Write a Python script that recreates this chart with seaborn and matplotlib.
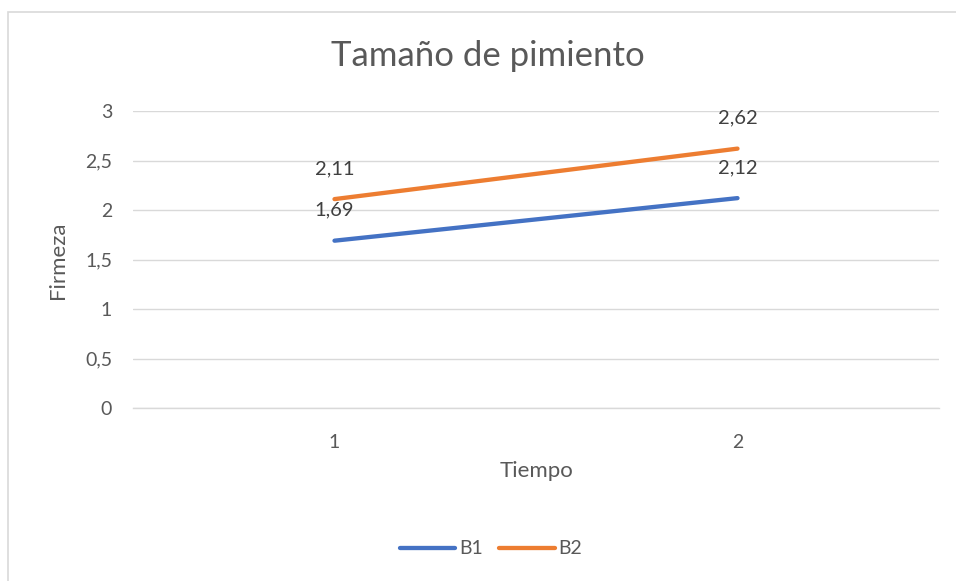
import matplotlib
matplotlib.use("Agg")
import matplotlib.pyplot as plt
import seaborn as sns
import pandas as pd
from matplotlib.patches import Rectangle
from matplotlib.lines import Line2D
from matplotlib.ticker import FuncFormatter

tiempo = ["1", "2"]
b1 = [1.69, 2.12]
b2 = [2.11, 2.62]
series_names = ["B1", "B2"]
y_ticks = [0, 0.5, 1, 1.5, 2, 2.5, 3]

df = pd.DataFrame({
    "Tiempo": tiempo * 2,
    "Firmeza": b1 + b2,
    "Serie": [series_names[0]] * len(tiempo) + [series_names[1]] * len(tiempo),
})

sns.set_theme(style="white")
plt.rcParams["font.family"] = ["Lato", "DejaVu Sans"]

W, H = 956, 581
fig = plt.figure(figsize=(W / 100, H / 100), dpi=100)
ax = fig.add_axes([133 / W, (H - 408) / H, (939 - 133) / W, (408 - 111) / H])

colors = {"B1": "#4472C4", "B2": "#ED7D31"}
sns.lineplot(data=df, x="Tiempo", y="Firmeza", hue="Serie", palette=colors,
             linewidth=3.1, ax=ax, legend=False, solid_capstyle="round")

ax.set_xlim(-0.5, 1.5)
ax.set_ylim(0, 3)
ax.set_yticks(y_ticks)
ax.yaxis.set_major_formatter(FuncFormatter(lambda v, p: (f"{v:g}").replace(".", ",")))
ax.grid(axis="y", color="#d9d9d9", linewidth=1)
ax.grid(axis="x", visible=False)
for s in ["top", "right", "left"]:
    ax.spines[s].set_visible(False)
ax.spines["bottom"].set_color("#d9d9d9")
ax.spines["bottom"].set_linewidth(1)
ax.tick_params(axis="both", length=0, labelsize=14, colors="#595959")
ax.tick_params(axis="y", pad=15)
ax.tick_params(axis="x", pad=19)

ax.set_xlabel("")
ax.set_ylabel("")
fig.text(537 / W, 1 - 471 / H, "Tiempo", ha="center", va="center",
         fontsize=16, color="#595959")
fig.text(58 / W, 1 - 260 / H, "Firmeza", ha="center", va="center", rotation=90,
         fontsize=16, color="#595959")

for vals in (b1, b2):
    for i, v in enumerate(vals):
        ax.annotate(f"{v:.2f}".replace(".", ","), xy=(i, v), xytext=(0, 22),
                    textcoords="offset points", ha="center", va="center",
                    fontsize=14.5, color="#404040")

fig.text(488 / W, 1 - 56 / H, "Tamaño de pimiento", ha="center", va="center",
         fontsize=25, color="#595959")

handles = [Line2D([0], [0], color=colors[n], lw=3.1, solid_capstyle="round") for n in series_names]
fig.legend(handles, series_names, loc="center", bbox_to_anchor=(491 / W, 1 - 549 / H),
           ncol=2, frameon=False, fontsize=14, handlelength=2.85, columnspacing=0.85,
           handletextpad=0.2, labelcolor="#595959")

fig.patches.append(Rectangle((8 / W, -0.1), 1.2, 1.1 - 12 / H, transform=fig.transFigure,
                             fill=False, edgecolor="#d9d9d9", linewidth=1.2, zorder=0))

fig.savefig("out.png", dpi=100)
